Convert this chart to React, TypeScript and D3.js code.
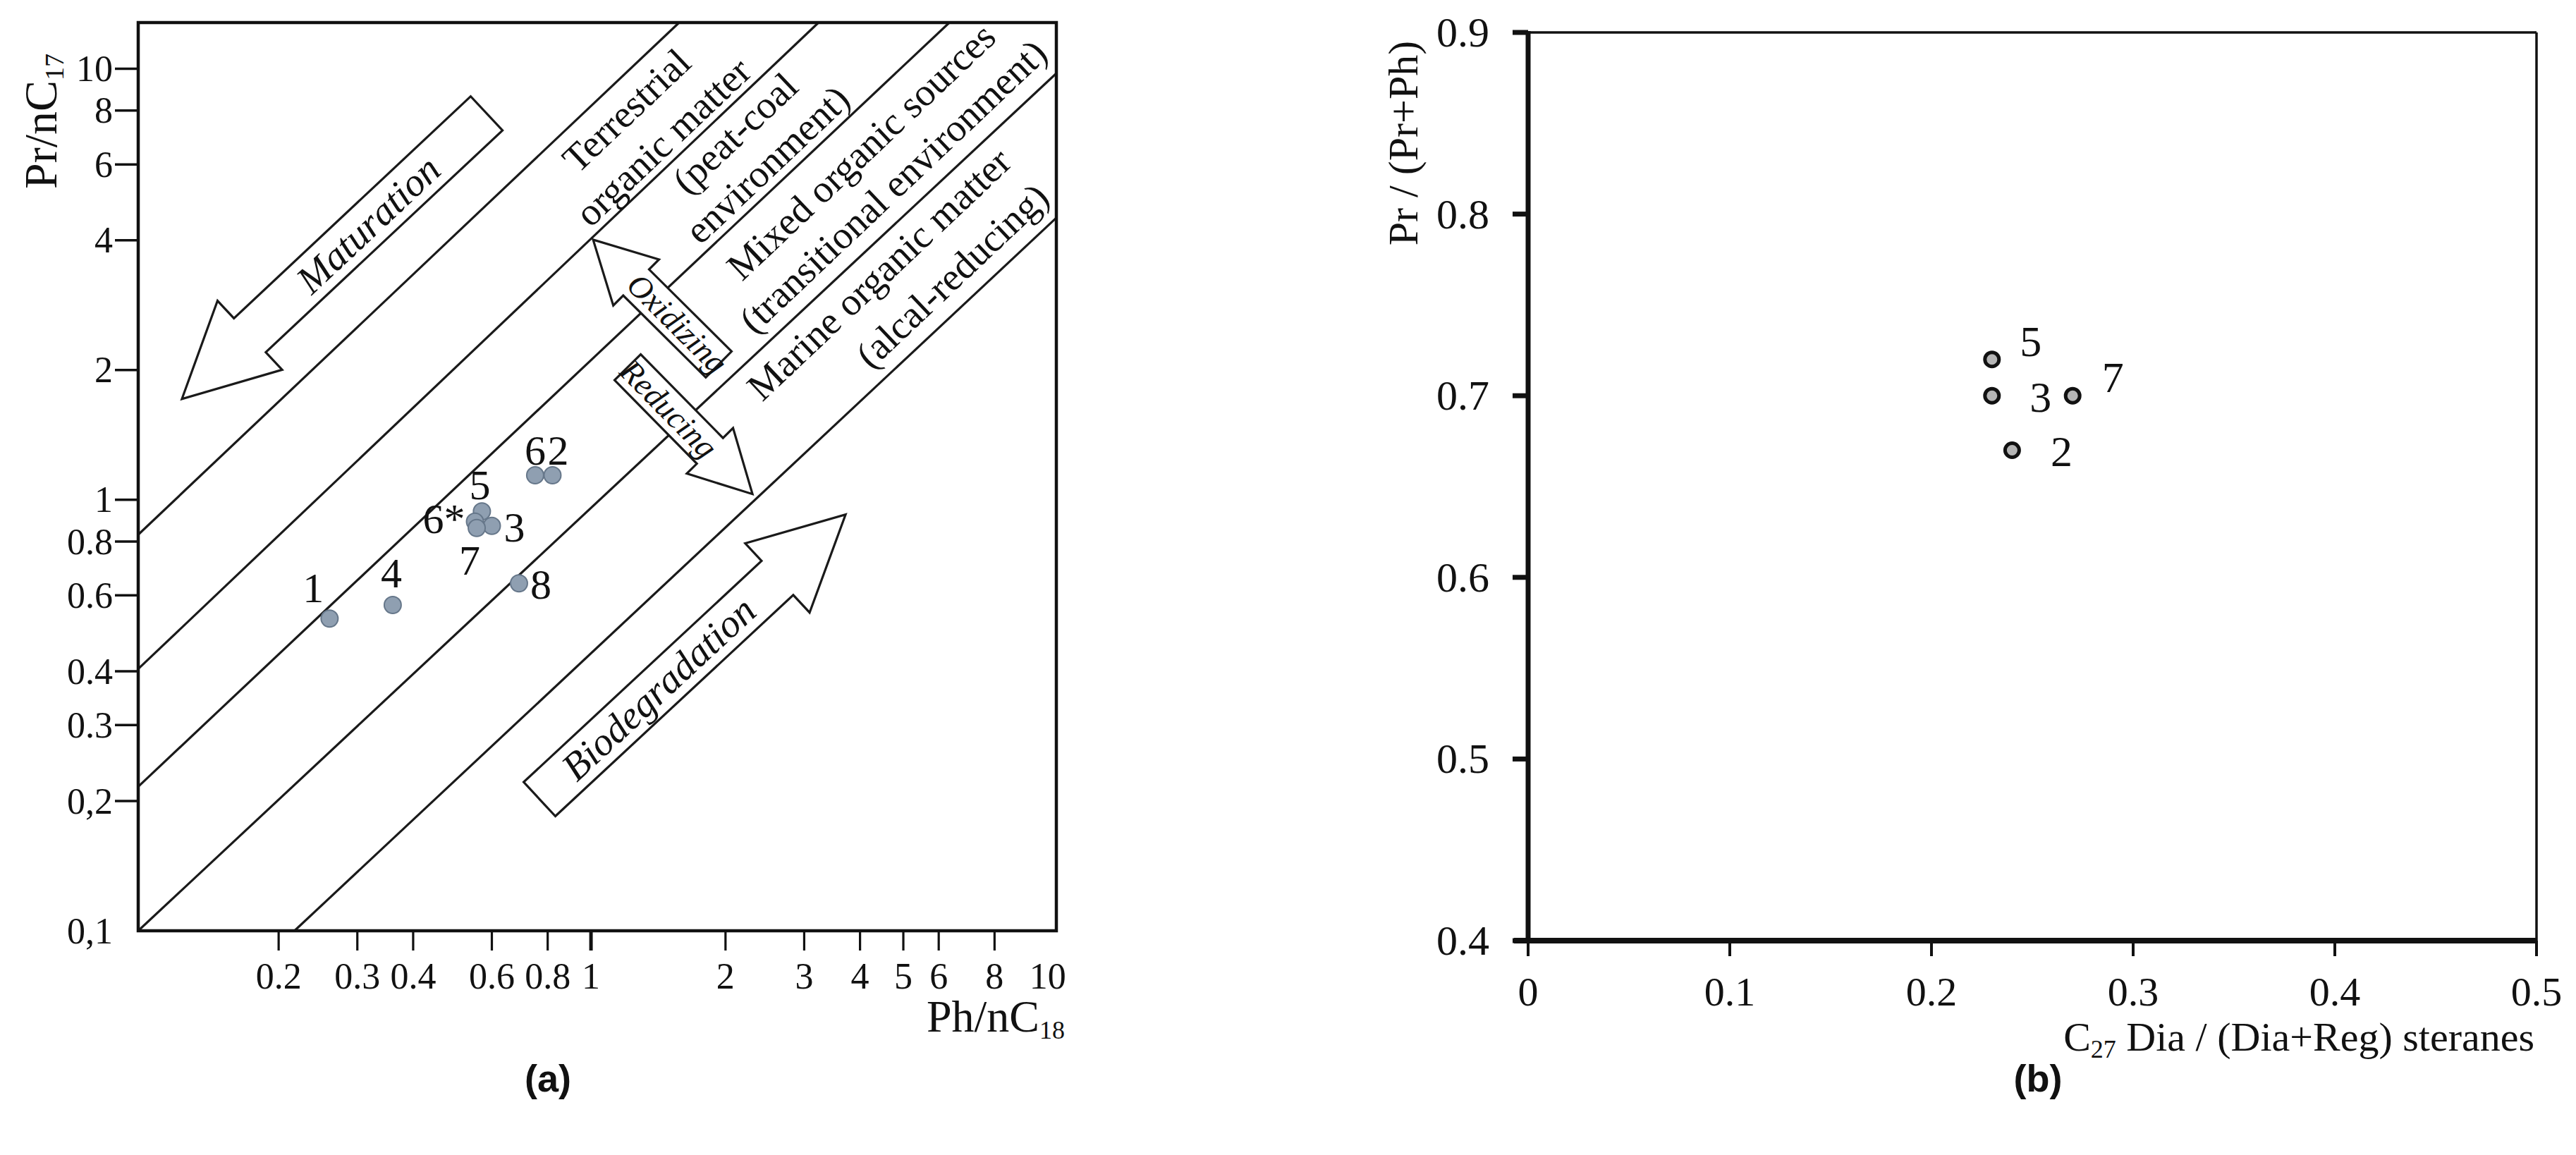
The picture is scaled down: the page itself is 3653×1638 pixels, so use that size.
import React from "react";
import * as d3 from "d3";

const W = 3653;
const H = 1638;
const SERIF = "'Liberation Serif', 'Times New Roman', serif";

// ---- panel (a): Pr/nC17 vs Ph/nC18 (log-log) ----
const aSamples = ["1", "2", "3", "4", "5", "6", "6*", "7", "8"];
const aPhC18 = [0.26, 0.82, 0.6, 0.36, 0.57, 0.75, 0.55, 0.555, 0.69];
const aPrC17 = [0.53, 1.14, 0.87, 0.57, 0.94, 1.14, 0.89, 0.86, 0.64];

const aXTicks = [0.2, 0.3, 0.4, 0.6, 0.8, 1, 2, 3, 4, 5, 6, 8, 10];
const aXTickLabels = ["0.2", "0.3", "0.4", "0.6", "0.8", "1", "2", "3", "4", "5", "6", "8", "10"];
const aYTicks = [0.1, 0.2, 0.3, 0.4, 0.6, 0.8, 1, 2, 4, 6, 8, 10];
const aYTickLabels = ["0,1", "0,2", "0.3", "0.4", "0.6", "0.8", "1", "2", "4", "6", "8", "10"];

// boundary lines of the environment fields, [Ph/nC18, Pr/nC17] at both ends
const aBoundaryFrom = [[0.097, 0.83], [0.097, 0.405], [0.097, 0.216], [0.097, 0.1], [0.217, 0.1]];
const aBoundaryTo = [[1.575, 12.8], [3.23, 12.8], [6.34, 12.8], [11, 9.76], [11, 4.51]];

// field names, anchored at [Ph/nC18, Pr/nC17]
const aFieldText = [
  "Terrestrial", "organic matter", "(peat-coal", "environment)",
  "Mixed organic sources", "(transitional environment)",
  "Marine organic matter", "(alcal-reducing)",
];
const aFieldAt = [
  [1.2, 8.0], [1.45, 6.77], [2.1, 7.09], [2.48, 6.0],
  [4.02, 6.43], [4.74, 5.34],
  [4.41, 3.34], [6.43, 3.31],
];

// process arrows: tail -> tip in data units
const aArrowText = ["Maturation", "Biodegradation", "Oxidizing", "Reducing"];
const aArrowFrom = [[0.584, 7.88], [0.767, 0.202], [1.931, 2.061], [1.208, 2.03]];
const aArrowTo = [[0.1215, 1.714], [3.713, 0.924], [1.011, 4.012], [2.298, 1.031]];
const aArrowBig = [true, true, false, false];

// ---- panel (b): Pr/(Pr+Ph) vs C27 Dia/(Dia+Reg) steranes ----
const bSamples = ["5", "3", "7", "2"];
const bDiaReg = [0.23, 0.23, 0.27, 0.24];
const bPrPh = [0.72, 0.7, 0.7, 0.67];
const bXTicks = [0, 0.1, 0.2, 0.3, 0.4, 0.5];
const bYTicks = [0.4, 0.5, 0.6, 0.7, 0.8, 0.9];

// label offsets (px) beside each point
const aLabelOffset: Record<string, [number, number]> = {
  "1": [-23, -43], "2": [8, -35], "3": [32, 2], "4": [-2, -45], "5": [-3, -37],
  "6": [0, -35], "6*": [-44, -4], "7": [-10, 46], "8": [31, 2],
};
const bLabelOffset: Record<string, [number, number]> = {
  "5": [55, -26], "3": [69, 2], "7": [57, -26], "2": [70, 2],
};

function arrowPoints(t: number[], p: number[], sw: number, hw: number, hl: number) {
  const dx = p[0] - t[0], dy = p[1] - t[1];
  const len = Math.hypot(dx, dy);
  const ux = dx / len, uy = dy / len;
  const vx = -uy, vy = ux;
  const bx = p[0] - ux * hl, by = p[1] - uy * hl;
  const pts = [
    [t[0] + vx * sw, t[1] + vy * sw],
    [bx + vx * sw, by + vy * sw],
    [bx + vx * hw, by + vy * hw],
    [p[0], p[1]],
    [bx - vx * hw, by - vy * hw],
    [bx - vx * sw, by - vy * sw],
    [t[0] - vx * sw, t[1] - vy * sw],
  ];
  return pts.map((q) => q.join(",")).join(" ");
}

function readAngle(dx: number, dy: number) {
  if (dx < 0) { dx = -dx; dy = -dy; }
  return (Math.atan2(dy, dx) * 180) / Math.PI;
}

function PanelA() {
  const left = 196, right = 1498, top = 32, bottom = 1320;
  const x = d3.scaleLog().domain([0.097, 11]).range([left, right]);
  const y = d3.scaleLog().domain([0.1, 12.8]).range([bottom, top]);

  const lineA = [x(aBoundaryFrom[0][0]), y(aBoundaryFrom[0][1]), x(aBoundaryTo[0][0]), y(aBoundaryTo[0][1])];
  const fieldAngle = readAngle(lineA[2] - lineA[0], lineA[3] - lineA[1]);

  return (
    <g fontFamily={SERIF} fill="#111">
      {/* boundary lines */}
      {aBoundaryFrom.map((f, i) => (
        <line key={"b" + i} x1={x(f[0])} y1={y(f[1])} x2={x(aBoundaryTo[i][0])} y2={y(aBoundaryTo[i][1])}
          stroke="#1a1a1a" strokeWidth={3.2} />
      ))}

      {/* arrows */}
      {aArrowText.map((label, i) => {
        const t = [x(aArrowFrom[i][0]), y(aArrowFrom[i][1])];
        const p = [x(aArrowTo[i][0]), y(aArrowTo[i][1])];
        const big = aArrowBig[i];
        const sw = big ? 33 : 26, hw = big ? 67 : 46, hl = big ? 132 : 86;
        const len = Math.hypot(p[0] - t[0], p[1] - t[1]);
        const ux = (p[0] - t[0]) / len, uy = (p[1] - t[1]) / len;
        const shaftMid = (len - hl) / 2;
        const cx = t[0] + ux * shaftMid, cy = t[1] + uy * shaftMid;
        const ang = readAngle(ux, uy);
        return (
          <g key={"a" + i}>
            <polygon points={arrowPoints(t, p, sw, hw, hl)} fill="#fff" stroke="#1a1a1a" strokeWidth={3.2}
              strokeLinejoin="miter" />
            <text x={0} y={0} transform={`translate(${cx},${cy}) rotate(${ang})`} textAnchor="middle"
              dominantBaseline="central" fontStyle="italic" fontSize={big ? 56 : 46}>{label}</text>
          </g>
        );
      })}

      {/* field names */}
      {aFieldText.map((s, i) => (
        <text key={"f" + i} transform={`translate(${x(aFieldAt[i][0])},${y(aFieldAt[i][1])}) rotate(${fieldAngle})`}
          textAnchor="middle" dominantBaseline="central" fontSize={55}>{s}</text>
      ))}

      {/* frame */}
      <rect x={left} y={top} width={right - left} height={bottom - top} fill="none" stroke="#111" strokeWidth={4.5} />

      {/* y axis ticks */}
      {aYTicks.map((v, i) => (
        <g key={"yt" + i}>
          {v > 0.1 && <line x1={left - 33} x2={left} y1={y(v)} y2={y(v)} stroke="#111" strokeWidth={3.5} />}
          <text x={left - 36} y={y(v)} textAnchor="end" dominantBaseline="central" fontSize={52}>{aYTickLabels[i]}</text>
        </g>
      ))}
      {/* x axis ticks */}
      {aXTicks.map((v, i) => (
        <g key={"xt" + i}>
          {v < 10 && <line x1={x(v)} x2={x(v)} y1={bottom} y2={bottom + 28} stroke="#111" strokeWidth={v === 1 ? 5 : 3.2} />}
          <text x={v === 10 ? x(v) + 14 : x(v)} y={bottom + 82} textAnchor="middle" fontSize={52}>{aXTickLabels[i]}</text>
        </g>
      ))}

      {/* points */}
      {aSamples.map((s, i) => (
        <circle key={"p" + i} cx={x(aPhC18[i])} cy={y(aPrC17[i])} r={12} fill="#8f9fb1" stroke="#66778a" strokeWidth={2} />
      ))}
      {aSamples.map((s, i) => (
        <text key={"l" + i} x={x(aPhC18[i]) + aLabelOffset[s][0]} y={y(aPrC17[i]) + aLabelOffset[s][1]}
          textAnchor="middle" dominantBaseline="central" fontSize={60}>{s}</text>
      ))}

      {/* axis titles */}
      <text transform={`translate(80,172) rotate(-90)`} textAnchor="middle" fontSize={66}>
        Pr/nC<tspan fontSize={38} dy={10}>17</tspan>
      </text>
      <text x={1510} y={1463} textAnchor="end" fontSize={64}>
        Ph/nC<tspan fontSize={36} dy={10}>18</tspan>
      </text>

      <text x={777} y={1548} textAnchor="middle" fontSize={54} fontWeight="bold"
        fontFamily="'Liberation Sans', Arial, sans-serif">(a)</text>
    </g>
  );
}

function PanelB() {
  const left = 2167, right = 3597, top = 46, bottom = 1334;
  const x = d3.scaleLinear().domain([0, 0.5]).range([left, right]);
  const y = d3.scaleLinear().domain([0.4, 0.9]).range([bottom, top]);

  return (
    <g fontFamily={SERIF} fill="#111">
      <line x1={left} x2={right} y1={top} y2={top} stroke="#111" strokeWidth={3.5} />
      <line x1={right} x2={right} y1={top} y2={bottom} stroke="#111" strokeWidth={3.5} />
      <line x1={left} x2={left} y1={top - 2} y2={bottom + 4} stroke="#111" strokeWidth={7} />
      <line x1={left - 20} x2={right} y1={bottom} y2={bottom} stroke="#111" strokeWidth={8} />

      {bYTicks.map((v) => (
        <g key={"by" + v}>
          <line x1={left - 22} x2={left} y1={y(v)} y2={y(v)} stroke="#111" strokeWidth={7} />
          <text x={2112} y={y(v)} textAnchor="end" dominantBaseline="central" fontSize={60}>{d3.format(".1f")(v)}</text>
        </g>
      ))}
      {bXTicks.map((v) => (
        <g key={"bx" + v}>
          <line x1={x(v)} x2={x(v)} y1={bottom} y2={bottom + 22} stroke="#111" strokeWidth={4} />
          <text x={x(v)} y={1426} textAnchor="middle" fontSize={58}>{v === 0 ? "0" : d3.format(".1f")(v)}</text>
        </g>
      ))}

      {bSamples.map((s, i) => (
        <circle key={"bp" + i} cx={x(bDiaReg[i])} cy={y(bPrPh[i])} r={10} fill="#b5b5b5" stroke="#111" strokeWidth={5} />
      ))}
      {bSamples.map((s, i) => (
        <text key={"bl" + i} x={x(bDiaReg[i]) + bLabelOffset[s][0]} y={y(bPrPh[i]) + bLabelOffset[s][1]}
          textAnchor="middle" dominantBaseline="central" fontSize={62}>{s}</text>
      ))}

      <text transform={`translate(2010,203) rotate(-90)`} textAnchor="middle" fontSize={60}>Pr / (Pr+Ph)</text>
      <text x={3594} y={1490} textAnchor="end" fontSize={58}>
        C<tspan fontSize={36} dy={10}>27</tspan><tspan dy={-10}> Dia / (Dia+Reg) steranes</tspan>
      </text>

      <text x={2890} y={1548} textAnchor="middle" fontSize={54} fontWeight="bold"
        fontFamily="'Liberation Sans', Arial, sans-serif">(b)</text>
    </g>
  );
}

export default function App() {
  return (
    <svg width={W} height={H} viewBox={`0 0 ${W} ${H}`}
      style={{ position: "absolute", left: 0, top: 0, background: "#fff" }}>
      <rect width={W} height={H} fill="#fff" />
      <PanelA />
      <PanelB />
    </svg>
  );
}
